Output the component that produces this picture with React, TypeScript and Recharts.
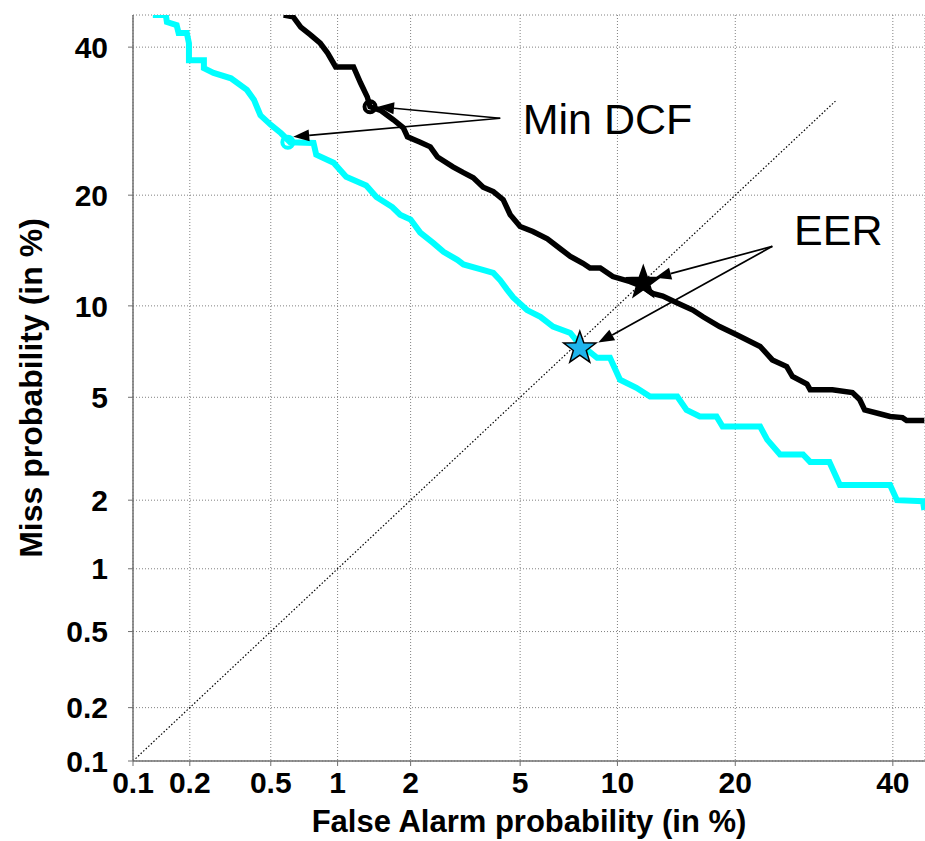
import React from 'react';
import {
  ComposedChart,
  Line,
  XAxis,
  YAxis,
  CartesianGrid,
  ReferenceLine,
  ReferenceDot,
  Label,
} from 'recharts';

// ---------- data (percent values) ----------
const tickLabels = [0.1, 0.2, 0.5, 1, 2, 5, 10, 20, 40];
const xDomainPct = [0.1, 44.7];
const yDomainPct = [0.1, 45.0];

const cyanFa = [0.128, 0.150, 0.152, 0.171, 0.175, 0.193, 0.198, 0.198, 0.236, 0.236, 0.264, 0.322, 0.385, 0.416, 0.447, 0.50, 0.557, 0.615, 0.784, 0.806, 0.961, 1.088, 1.323, 1.457, 1.691, 1.817, 2.0, 2.18, 2.45, 2.675, 3.01, 3.17, 3.64, 4.05, 4.28, 4.51, 4.74, 5.27, 5.83, 6.40, 7.25, 7.66, 8.73, 9.52, 10.17, 11.3, 12.3, 14.5, 15.3, 16.5, 18.1, 18.7, 22.7, 23.5, 25.0, 27.8, 28.7, 31.2, 32.6, 39.6, 40.6, 44.4, 44.6];
const cyanMiss = [45.0, 45.0, 43.9, 43.4, 42.2, 42.2, 40.6, 38.0, 38.0, 36.8, 36.1, 35.3, 33.6, 32.2, 30.0, 28.7, 27.6, 26.4, 26.3, 24.8, 23.8, 22.1, 21.1, 19.8, 18.7, 17.9, 17.4, 16.1, 15.1, 14.3, 13.6, 13.2, 12.8, 12.5, 11.9, 11.2, 10.6, 9.71, 9.26, 8.63, 8.24, 7.67, 6.84, 6.84, 5.76, 5.40, 5.03, 5.03, 4.50, 4.26, 4.26, 3.91, 3.91, 3.49, 3.06, 3.06, 2.86, 2.86, 2.31, 2.31, 2.0, 1.98, 1.82];

const blackFa = [0.574, 0.635, 0.687, 0.760, 0.840, 0.905, 0.981, 1.170, 1.253, 1.336, 1.372, 1.515, 1.707, 1.872, 1.944, 2.18, 2.384, 2.539, 2.90, 3.17, 3.44, 3.73, 4.05, 4.38, 4.63, 5.0, 5.51, 6.14, 6.73, 7.25, 7.92, 8.32, 8.92, 9.70, 10.86, 11.78, 12.5, 13.3, 14.5, 15.86, 16.8, 18.4, 20.2, 22.7, 24.1, 25.8, 26.5, 28.3, 28.7, 31.6, 34.3, 35.3, 36.0, 38.1, 39.6, 41.4, 42.0, 44.6];
const blackMiss = [45.0, 44.7, 43.1, 41.9, 40.6, 39.1, 37.0, 37.0, 34.6, 32.6, 31.2, 30.7, 29.4, 28.3, 27.1, 26.4, 25.8, 24.5, 23.3, 22.6, 22.0, 20.9, 20.4, 19.5, 17.9, 16.7, 16.2, 15.5, 14.6, 13.9, 13.3, 12.9, 12.9, 12.2, 11.8, 11.4, 10.9, 10.7, 10.2, 9.71, 9.26, 8.63, 8.12, 7.45, 6.73, 6.39, 5.91, 5.57, 5.32, 5.32, 5.20, 4.91, 4.50, 4.36, 4.26, 4.22, 4.12, 4.12];

const diagonalPct = [0.1, 32];

// Min DCF points: [black, cyan]
const minDcfFa = [1.372, 0.60];
const minDcfMiss = [31.2, 26.4];
// EER points: [black, cyan]
const eerFa = [11.8, 7.75];
const eerMiss = [11.7, 7.35];

// annotation text anchors and arrow tails/tips
const minDcfText = { fa: 5.1, miss: 27.5, text: 'Min DCF' };
const eerText = { fa: 26.7, miss: 14.9, text: 'EER' };
const minDcfTail = { fa: 4.28, miss: 29.6 };
const minDcfTipsFa = [1.48, 0.635];
const minDcfTipsMiss = [31.2, 27.1];
const eerTail = { fa: 24.1, miss: 14.8 };
const eerTipsFa = [12.7, 8.8];
const eerTipsMiss = [12.1, 7.67];

// ---------- probit transform ----------
function probit(p: number): number {
  const a = [-3.969683028665376e1, 2.209460984245205e2, -2.759285104469687e2, 1.38357751867269e2, -3.066479806614716e1, 2.506628277459239];
  const b = [-5.447609879822406e1, 1.615858368580409e2, -1.556989798598866e2, 6.680131188771972e1, -1.328068155288572e1];
  const c = [-7.784894002430293e-3, -3.223964580411365e-1, -2.400758277161838, -2.549732539343734, 4.374664141464968, 2.938163982698783];
  const d = [7.784695709041462e-3, 3.224671290700398e-1, 2.445134137142996, 3.754408661907416];
  const plow = 0.02425;
  const phigh = 1 - plow;
  if (p < plow) {
    const q = Math.sqrt(-2 * Math.log(p));
    return (((((c[0] * q + c[1]) * q + c[2]) * q + c[3]) * q + c[4]) * q + c[5]) / ((((d[0] * q + d[1]) * q + d[2]) * q + d[3]) * q + 1);
  }
  if (p <= phigh) {
    const q = p - 0.5;
    const r = q * q;
    return ((((((a[0] * r + a[1]) * r + a[2]) * r + a[3]) * r + a[4]) * r + a[5]) * q) / (((((b[0] * r + b[1]) * r + b[2]) * r + b[3]) * r + b[4]) * r + 1);
  }
  const q = Math.sqrt(-2 * Math.log(1 - p));
  return -(((((c[0] * q + c[1]) * q + c[2]) * q + c[3]) * q + c[4]) * q + c[5]) / ((((d[0] * q + d[1]) * q + d[2]) * q + d[3]) * q + 1);
}
const z = (pct: number) => probit(pct / 100);

const cyanData = cyanFa.map((fa, i) => ({ x: z(fa), y: z(cyanMiss[i]) }));
const blackData = blackFa.map((fa, i) => ({ x: z(fa), y: z(blackMiss[i]) }));
const diagData = diagonalPct.map((v) => ({ x: z(v), y: z(v) }));
const ticks = tickLabels.map(z);
const fmt = (v: number) => {
  let best = 0;
  let bd = Infinity;
  ticks.forEach((t, i) => {
    const dd = Math.abs(t - v);
    if (dd < bd) {
      bd = dd;
      best = i;
    }
  });
  return String(tickLabels[best]);
};

const FONT = '"Liberation Sans", Arial, Helvetica, sans-serif';

const ArrowShape = (props: any) => {
  const { x1, y1, x2, y2 } = props;
  if ([x1, y1, x2, y2].some((v) => typeof v !== 'number' || isNaN(v))) return null;
  const ang = Math.atan2(y2 - y1, x2 - x1);
  const L = 16;
  const W = 6;
  const bx = x2 - L * Math.cos(ang);
  const by = y2 - L * Math.sin(ang);
  const px = -Math.sin(ang) * W;
  const py = Math.cos(ang) * W;
  return (
    <g>
      <line x1={x1} y1={y1} x2={bx} y2={by} stroke="#000" strokeWidth={1.7} />
      <polygon points={`${x2},${y2} ${bx + px},${by + py} ${bx - px},${by - py}`} fill="#000" />
    </g>
  );
};

const starPoints = (cx: number, cy: number, R: number, r: number) => {
  const pts: string[] = [];
  for (let i = 0; i < 10; i++) {
    const rad = i % 2 === 0 ? R : r;
    const a = -Math.PI / 2 + (i * Math.PI) / 5;
    pts.push(`${cx + rad * Math.cos(a)},${cy + rad * Math.sin(a)}`);
  }
  return pts.join(' ');
};

const makeStar = (fill: string, R: number) => (props: any) => {
  const { cx, cy } = props;
  if (typeof cx !== 'number') return null;
  return <polygon points={starPoints(cx, cy, R, R * 0.4)} fill={fill} stroke="#000" strokeWidth={1.5} strokeLinejoin="miter" />;
};

const makeRing = (color: string) => (props: any) => {
  const { cx, cy } = props;
  if (typeof cx !== 'number') return null;
  return <circle cx={cx} cy={cy} r={5.5} fill="none" stroke={color} strokeWidth={4} />;
};

const makeText = (text: string) => (props: any) => {
  const { cx, cy } = props;
  if (typeof cx !== 'number') return null;
  return (
    <text x={cx} y={cy} fontFamily={FONT} fontSize={43} fill="#000" textAnchor="start">
      {text}
    </text>
  );
};

const YLabel = (props: any) => {
  const vb = props.viewBox || { x: 0, y: 15, width: 133, height: 746 };
  const x = 42;
  const y = vb.y + vb.height / 2;
  return (
    <text x={x} y={y} transform={`rotate(-90 ${x} ${y})`} textAnchor="middle" fontFamily={FONT} fontWeight="bold" fontSize={32} fill="#000">
      Miss probability (in %)
    </text>
  );
};

const XLabel = (props: any) => {
  const vb = props.viewBox || { x: 133, y: 761, width: 792, height: 80 };
  const x = vb.x + vb.width / 2;
  return (
    <text x={x} y={832} textAnchor="middle" fontFamily={FONT} fontWeight="bold" fontSize={31} fill="#000">
      False Alarm probability (in %)
    </text>
  );
};

export default function App() {
  const tickStyle = { fontFamily: FONT, fontWeight: 'bold' as const, fontSize: 30, fill: '#000' };
  return (
    <div style={{ position: 'absolute', left: 0, top: 0, width: 925, height: 841, background: '#fff' }}>
      <ComposedChart width={925} height={841} margin={{ top: 15, right: 0, bottom: 0, left: 0 }}>
        <CartesianGrid stroke="#808080" strokeDasharray="1 2" strokeWidth={1} />
        <XAxis
          dataKey="x"
          type="number"
          domain={[z(xDomainPct[0]), z(xDomainPct[1])]}
          ticks={ticks}
          interval={0}
          allowDataOverflow
          tickFormatter={fmt}
          height={80}
          tick={tickStyle}
          tickSize={5}
          tickMargin={6}
          stroke="#707070"
          axisLine={{ stroke: '#707070', strokeWidth: 1.5 }}
          tickLine={{ stroke: '#707070' }}
        >
          <Label content={<XLabel />} />
        </XAxis>
        <YAxis
          dataKey="y"
          type="number"
          domain={[z(yDomainPct[0]), z(yDomainPct[1])]}
          ticks={ticks}
          interval={0}
          allowDataOverflow
          tickFormatter={fmt}
          width={133}
          tick={tickStyle}
          tickSize={5}
          tickMargin={20}
          stroke="#707070"
          axisLine={{ stroke: '#707070', strokeWidth: 1.5 }}
          tickLine={{ stroke: '#707070' }}
        >
          <Label content={<YLabel />} />
        </YAxis>
        <Line data={diagData} dataKey="y" stroke="#000" strokeWidth={1.2} strokeDasharray="1.5 2" dot={false} activeDot={false} isAnimationActive={false} />
        <Line data={cyanData} dataKey="y" stroke="#00FFFF" strokeWidth={6} dot={false} activeDot={false} isAnimationActive={false} />
        <Line data={blackData} dataKey="y" stroke="#000" strokeWidth={5.5} dot={false} activeDot={false} isAnimationActive={false} />

        <ReferenceDot x={z(minDcfFa[0])} y={z(minDcfMiss[0])} r={5} shape={makeRing('#000')} />
        <ReferenceDot x={z(minDcfFa[1])} y={z(minDcfMiss[1])} r={5} shape={makeRing('#00FFFF')} />
        <ReferenceDot x={z(eerFa[0])} y={z(eerMiss[0])} r={16} shape={makeStar('#000', 17)} />
        <ReferenceDot x={z(eerFa[1])} y={z(eerMiss[1])} r={16} shape={makeStar('#1FB4EC', 17)} />

        {minDcfTipsFa.map((fa, i) => (
          <ReferenceLine
            key={`md${i}`}
            segment={[
              { x: z(minDcfTail.fa), y: z(minDcfTail.miss) },
              { x: z(fa), y: z(minDcfTipsMiss[i]) },
            ]}
            shape={ArrowShape}
          />
        ))}
        {eerTipsFa.map((fa, i) => (
          <ReferenceLine
            key={`ee${i}`}
            segment={[
              { x: z(eerTail.fa), y: z(eerTail.miss) },
              { x: z(fa), y: z(eerTipsMiss[i]) },
            ]}
            shape={ArrowShape}
          />
        ))}
        <ReferenceDot x={z(minDcfText.fa)} y={z(minDcfText.miss)} r={1} shape={makeText(minDcfText.text)} />
        <ReferenceDot x={z(eerText.fa)} y={z(eerText.miss)} r={1} shape={makeText(eerText.text)} />
      </ComposedChart>
    </div>
  );
}
